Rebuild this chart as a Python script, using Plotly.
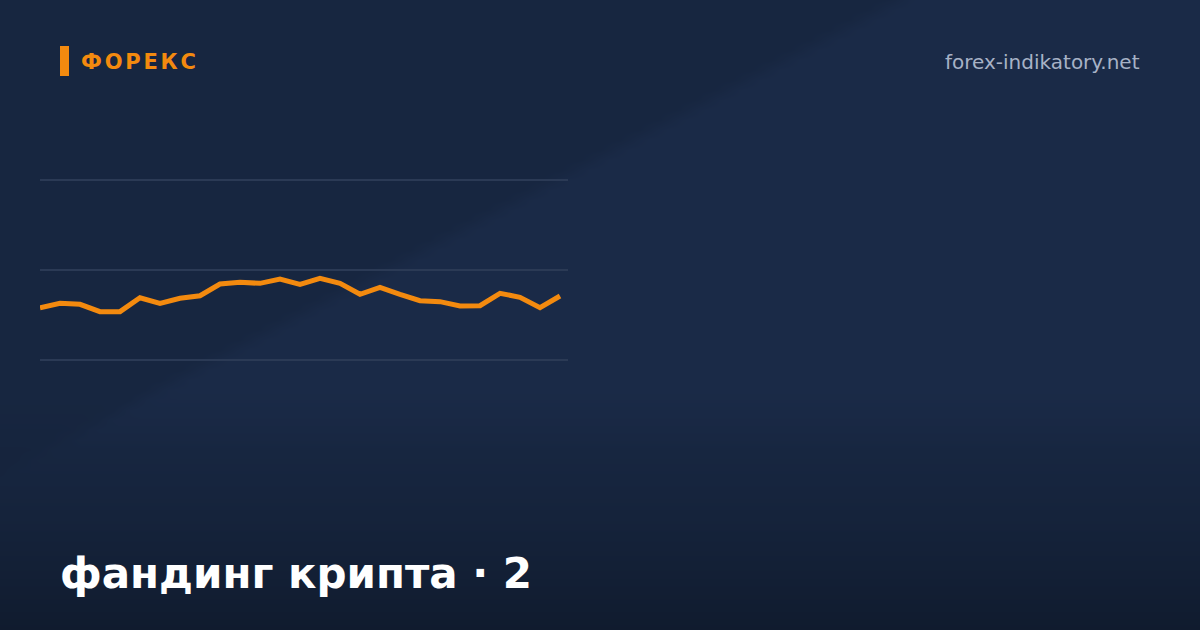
import numpy as np
import plotly.graph_objects as go

W, H = 1200, 630

# funding readings, one per step (grid lines at 0 / 10 / 20)
periods = list(range(27))
funding = [
    5.81, 6.30, 6.19, 5.37, 5.37, 6.92, 6.30, 6.86, 7.14, 8.44,
    8.63, 8.52, 9.00, 8.41, 9.08, 8.52, 7.30, 8.08, 7.30, 6.59,
    6.48, 6.00, 6.03, 7.41, 6.97, 5.81, 7.11,
]
grid_levels = [0, 10, 20]

TITLE = "фандинг крипта · 2"
BRAND = "ФОРЕКС"
SITE = "forex-indikatory.net"

ORANGE = "#f38a0f"
GRID = "#2b3a55"
FONT = "DejaVu Sans"

BG_SCALE = [
    [0.0, "#0e1829"],
    [0.5, "#172640"],
    [0.56, "#1a2a47"],
    [1.0, "#1c2c4a"],
]


def px_x(p):
    return p / W


def px_y(p):
    return 1 - p / H


def background_field():
    # decorative backdrop: diagonal step to a lighter navy, darkening at the bottom
    xs = np.linspace(0, W, 121)
    ys = np.linspace(0, H, 64)
    gx, gy = np.meshgrid(xs, ys)
    t = gx / W + gy / H
    k = np.clip((t - 0.735) / 0.03, 0, 1)
    base = 0.5 + 0.06 * (k * k * (3 - 2 * k))
    s = np.clip((gy - 380) / 250, 0, 1)
    z = base - 0.45 * s ** 1.6
    return xs, ys, z


bx, by, bz = background_field()

fig = go.Figure()
fig.add_trace(go.Heatmap(
    x=bx, y=by, z=bz,
    colorscale=BG_SCALE, zmin=0, zmax=1, zsmooth="best",
    showscale=False, hoverinfo="skip",
    xaxis="x", yaxis="y",
))
fig.add_trace(go.Scatter(
    x=periods,
    y=funding,
    mode="lines",
    line=dict(color=ORANGE, width=5),
    hoverinfo="skip",
    xaxis="x2", yaxis="y2",
))

hidden = dict(showgrid=False, zeroline=False, showticklabels=False,
              ticks="", showline=False)

fig.update_layout(
    width=W,
    height=H,
    autosize=False,
    margin=dict(l=0, r=0, t=0, b=0),
    paper_bgcolor="#172640",
    plot_bgcolor="rgba(0,0,0,0)",
    showlegend=False,
    font=dict(family=FONT),
    xaxis=dict(domain=[0, 1], range=[0, W], **hidden),
    yaxis=dict(domain=[0, 1], range=[H, 0], **hidden),
    xaxis2=dict(
        domain=[px_x(40), px_x(568)],
        range=[0, 26.4],
        anchor="y2",
        **hidden,
    ),
    yaxis2=dict(
        domain=[px_y(378), px_y(162)],
        range=[-2, 22],
        anchor="x2",
        tickvals=grid_levels,
        showgrid=True, gridcolor=GRID, gridwidth=1.2,
        zeroline=False, showticklabels=False, ticks="", showline=False,
    ),
    shapes=[dict(
        type="rect", xref="paper", yref="paper",
        x0=px_x(60), x1=px_x(69), y0=px_y(76), y1=px_y(46),
        fillcolor=ORANGE, line=dict(width=0),
    )],
    annotations=[
        dict(
            text=f"<b><span style='letter-spacing:2.8px'>{BRAND}</span></b>",
            x=px_x(79), y=px_y(62), xref="paper", yref="paper",
            xanchor="left", yanchor="middle", showarrow=False,
            font=dict(family=FONT, size=21, color=ORANGE),
        ),
        dict(
            text=SITE,
            x=px_x(1142), y=px_y(62), xref="paper", yref="paper",
            xanchor="right", yanchor="middle", showarrow=False,
            font=dict(family=FONT, size=20, color="#a7b2c6"),
        ),
        dict(
            text=f"<b>{TITLE}</b>",
            x=px_x(58), y=px_y(573), xref="paper", yref="paper",
            xanchor="left", yanchor="middle", showarrow=False,
            font=dict(family=FONT, size=42, color="#ffffff"),
        ),
    ],
)

fig.write_html(
    "out.html",
    config={"displayModeBar": False, "staticPlot": True},
    post_script="document.body.style.margin='0';",
)
